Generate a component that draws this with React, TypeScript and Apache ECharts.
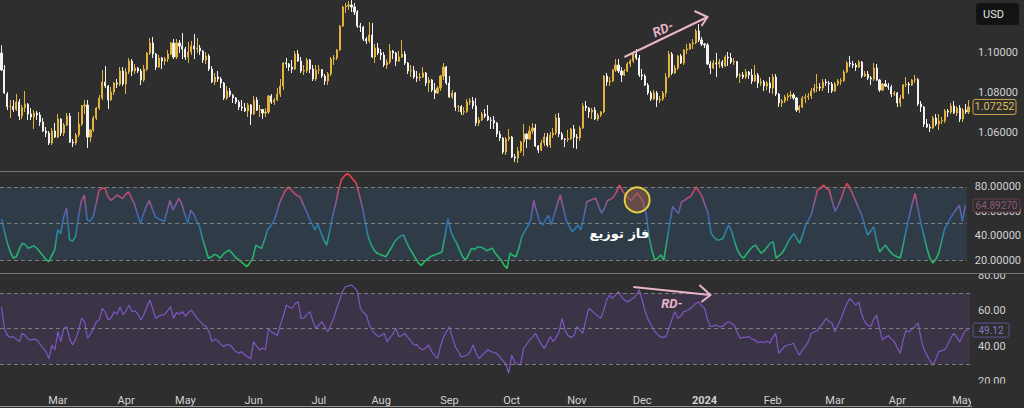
import React, { useEffect, useRef } from "react";
import * as echarts from "echarts";

// EUR/USD daily candles, 2 Feb 2023 – 3 May 2024
const opens = [
  1.0995,1.0910,1.0790,1.0727,1.0728,1.0713,1.0750,1.0680,1.0722,1.0739,
  1.0690,1.0675,1.0695,1.0685,1.0650,1.0605,1.0595,1.0545,1.0605,1.0575,
  1.0665,1.0595,1.0635,1.0680,1.0550,1.0545,1.0585,1.0640,1.0730,1.0735,
  1.0575,1.0610,1.0670,1.0720,1.0770,1.0850,1.0830,1.0760,1.0800,1.0845,
  1.0840,1.0905,1.0840,1.0900,1.0955,1.0905,1.0920,1.0905,1.0860,1.0915,
  1.0995,1.1045,1.0990,1.0925,1.0970,1.0955,1.0965,1.0990,1.1045,1.0975,
  1.1045,1.1030,1.1015,1.0975,1.1000,1.1030,1.1015,1.1020,1.1005,1.0960,
  1.0980,1.0915,1.0850,1.0875,1.0865,1.0845,1.0770,1.0805,1.0785,1.0770,
  1.0750,1.0725,1.0720,1.0705,1.0735,1.0690,1.0760,1.0710,1.0712,1.0695,
  1.0700,1.0780,1.0750,1.0760,1.0790,1.0830,1.0945,1.0940,1.0925,1.0915,
  1.0990,1.0955,1.0905,1.0907,1.0960,1.0915,1.0865,1.0910,1.0912,1.0880,
  1.0855,1.0890,1.0965,1.0970,1.1010,1.1130,1.1225,1.1230,1.1235,1.1225,
  1.1200,1.1130,1.1125,1.1065,1.1055,1.1085,1.0975,1.1020,1.0995,1.0985,
  1.0935,1.0950,1.1005,1.0995,1.0955,1.0975,1.0990,1.0945,1.0905,1.0907,
  1.0875,1.0870,1.0875,1.0895,1.0845,1.0860,1.0810,1.0795,1.0820,1.0880,
  1.0925,1.0845,1.0775,1.0795,1.0725,1.0727,1.0700,1.0702,1.0750,1.0755,
  1.0730,1.0645,1.0660,1.0690,1.0680,1.0660,1.0658,1.0645,1.0590,1.0570,
  1.0500,1.0565,1.0575,1.0475,1.0470,1.0505,1.0550,1.0590,1.0565,1.0605,
  1.0620,1.0530,1.0510,1.0545,1.0575,1.0535,1.0585,1.0595,1.0670,1.0590,
  1.0565,1.0563,1.0567,1.0615,1.0575,1.0570,1.0620,1.0730,1.0720,1.0700,
  1.0710,1.0665,1.0685,1.0700,1.0880,1.0850,1.0855,1.0910,1.0935,1.0905,
  1.0885,1.0905,1.0940,1.0955,1.0990,1.0970,1.0885,1.0880,1.0835,1.0795,
  1.0765,1.0795,1.0760,1.0765,1.0795,1.0875,1.0990,1.0895,1.0920,1.0980,
  1.0945,1.1010,1.1015,1.1040,1.1045,1.1105,1.1060,1.1040,1.1035,1.0940,
  1.0920,1.0945,1.0940,1.0950,1.0930,1.0975,1.0970,1.0950,1.0952,1.0880,
  1.0885,1.0875,1.0900,1.0885,1.0855,1.0885,1.0845,1.0850,1.0830,1.0845,
  1.0820,1.0875,1.0790,1.0745,1.0755,1.0775,1.0780,1.0785,1.0770,1.0710,
  1.0725,1.0770,1.0775,1.0780,1.0805,1.0820,1.0825,1.0820,1.0850,1.0845,
  1.0840,1.0805,1.0840,1.0855,1.0857,1.0900,1.0945,1.0940,1.0935,1.0925,
  1.0950,1.0880,1.0890,1.0870,1.0865,1.0920,1.0860,1.0810,1.0840,1.0830,
  1.0825,1.0790,1.0795,1.0745,1.0770,1.0835,1.0840,1.0835,1.0860,1.0862,
  1.0740,1.0725,1.0640,1.0625,1.0620,1.0670,1.0640,1.0655,1.0657,1.0705,
  1.0700,1.0730,1.0695,1.0720,1.0665,1.0710,1.0700,
];

const closes = [
  1.0910,1.0795,1.0727,1.0728,1.0713,1.0750,1.0680,1.0722,1.0739,1.0690,
  1.0675,1.0695,1.0685,1.0650,1.0605,1.0595,1.0545,1.0605,1.0575,1.0665,
  1.0595,1.0635,1.0680,1.0550,1.0545,1.0585,1.0640,1.0730,1.0735,1.0575,
  1.0610,1.0670,1.0720,1.0770,1.0850,1.0830,1.0760,1.0800,1.0845,1.0840,
  1.0905,1.0840,1.0900,1.0955,1.0905,1.0920,1.0905,1.0860,1.0915,1.0995,
  1.1045,1.0990,1.0925,1.0970,1.0955,1.0965,1.0990,1.1045,1.0975,1.1045,
  1.1030,1.1015,1.0975,1.1000,1.1030,1.1015,1.1020,1.1005,1.0960,1.0980,
  1.0915,1.0850,1.0875,1.0865,1.0845,1.0770,1.0805,1.0785,1.0770,1.0750,
  1.0725,1.0720,1.0705,1.0735,1.0690,1.0760,1.0710,1.0712,1.0695,1.0700,
  1.0780,1.0750,1.0760,1.0790,1.0830,1.0945,1.0940,1.0925,1.0915,1.0990,
  1.0955,1.0905,1.0907,1.0960,1.0915,1.0865,1.0910,1.0912,1.0880,1.0855,
  1.0890,1.0965,1.0970,1.1010,1.1130,1.1225,1.1230,1.1235,1.1225,1.1200,
  1.1130,1.1125,1.1065,1.1055,1.1085,1.0975,1.1020,1.0995,1.0985,1.0935,
  1.0950,1.1005,1.0995,1.0955,1.0975,1.0990,1.0945,1.0905,1.0907,1.0875,
  1.0870,1.0875,1.0895,1.0845,1.0860,1.0810,1.0795,1.0820,1.0880,1.0925,
  1.0845,1.0775,1.0795,1.0725,1.0727,1.0700,1.0702,1.0750,1.0755,1.0730,
  1.0645,1.0660,1.0690,1.0680,1.0660,1.0658,1.0645,1.0590,1.0570,1.0500,
  1.0565,1.0575,1.0475,1.0470,1.0505,1.0550,1.0590,1.0565,1.0605,1.0620,
  1.0530,1.0510,1.0545,1.0575,1.0535,1.0585,1.0595,1.0670,1.0590,1.0565,
  1.0563,1.0567,1.0615,1.0575,1.0570,1.0620,1.0730,1.0720,1.0700,1.0710,
  1.0665,1.0685,1.0700,1.0880,1.0850,1.0855,1.0910,1.0935,1.0905,1.0885,
  1.0905,1.0940,1.0955,1.0990,1.0970,1.0885,1.0880,1.0835,1.0795,1.0765,
  1.0795,1.0760,1.0765,1.0795,1.0875,1.0990,1.0895,1.0920,1.0980,1.0945,
  1.1010,1.1015,1.1040,1.1045,1.1105,1.1060,1.1040,1.1035,1.0940,1.0920,
  1.0945,1.0940,1.0950,1.0930,1.0975,1.0970,1.0950,1.0952,1.0880,1.0885,
  1.0875,1.0900,1.0885,1.0855,1.0885,1.0845,1.0850,1.0830,1.0845,1.0820,
  1.0875,1.0790,1.0745,1.0755,1.0775,1.0780,1.0785,1.0770,1.0710,1.0725,
  1.0770,1.0775,1.0780,1.0805,1.0820,1.0825,1.0820,1.0850,1.0845,1.0840,
  1.0805,1.0840,1.0855,1.0857,1.0900,1.0945,1.0940,1.0935,1.0925,1.0950,
  1.0880,1.0890,1.0870,1.0865,1.0920,1.0860,1.0810,1.0840,1.0830,1.0825,
  1.0790,1.0795,1.0745,1.0770,1.0835,1.0840,1.0835,1.0860,1.0862,1.0740,
  1.0725,1.0640,1.0625,1.0620,1.0670,1.0640,1.0655,1.0657,1.0705,1.0700,
  1.0730,1.0695,1.0720,1.0665,1.0710,1.0700,1.07252,
];

const lows = [
  1.0905,1.0790,1.0710,1.0670,1.0700,1.0705,1.0660,1.0665,1.0700,1.0660,
  1.0660,1.0615,1.0660,1.0630,1.0600,1.0575,1.0535,1.0535,1.0570,1.0570,
  1.0580,1.0580,1.0630,1.0545,1.0525,1.0535,1.0575,1.0630,1.0690,1.0520,
  1.0550,1.0600,1.0660,1.0710,1.0760,1.0820,1.0715,1.0755,1.0785,1.0820,
  1.0830,1.0830,1.0790,1.0890,1.0880,1.0890,1.0895,1.0835,1.0850,1.0905,
  1.0985,1.0970,1.0910,1.0920,1.0915,1.0935,1.0950,1.0985,1.0965,1.0965,
  1.0995,1.0965,1.0960,1.0945,1.0985,1.0965,1.0995,1.0985,1.0945,1.0940,
  1.0905,1.0845,1.0835,1.0850,1.0820,1.0760,1.0760,1.0775,1.0745,1.0740,
  1.0710,1.0705,1.0700,1.0675,1.0635,1.0685,1.0705,1.0675,1.0665,1.0675,
  1.0690,1.0740,1.0735,1.0755,1.0775,1.0810,1.0920,1.0905,1.0895,1.0910,
  1.0950,1.0895,1.0885,1.0895,1.0895,1.0855,1.0855,1.0890,1.0870,1.0835,
  1.0835,1.0880,1.0935,1.0960,1.1005,1.1125,1.1195,1.1210,1.1200,1.1185,
  1.1120,1.1100,1.1055,1.1040,1.1045,1.0970,1.0945,1.0985,1.0960,1.0925,
  1.0915,1.0940,1.0965,1.0930,1.0950,1.0970,1.0935,1.0890,1.0875,1.0865,
  1.0850,1.0855,1.0870,1.0830,1.0800,1.0800,1.0765,1.0790,1.0805,1.0860,
  1.0835,1.0770,1.0765,1.0705,1.0700,1.0685,1.0685,1.0695,1.0735,1.0715,
  1.0630,1.0630,1.0655,1.0670,1.0655,1.0615,1.0615,1.0575,1.0555,1.0490,
  1.0485,1.0555,1.0470,1.0450,1.0445,1.0495,1.0480,1.0520,1.0560,1.0590,
  1.0525,1.0495,1.0505,1.0530,1.0525,1.0520,1.0570,1.0585,1.0575,1.0560,
  1.0525,1.0550,1.0560,1.0520,1.0515,1.0555,1.0615,1.0705,1.0670,1.0665,
  1.0660,1.0655,1.0675,1.0695,1.0830,1.0830,1.0850,1.0900,1.0895,1.0850,
  1.0880,1.0900,1.0925,1.0945,1.0960,1.0875,1.0860,1.0830,1.0785,1.0755,
  1.0760,1.0725,1.0745,1.0755,1.0775,1.0870,1.0885,1.0890,1.0910,1.0940,
  1.0935,1.0990,1.1010,1.1015,1.1040,1.1050,1.1030,1.1020,1.0935,1.0890,
  1.0915,1.0875,1.0920,1.0920,1.0925,1.0930,1.0940,1.0935,1.0870,1.0845,
  1.0865,1.0865,1.0865,1.0840,1.0850,1.0820,1.0830,1.0805,1.0810,1.0795,
  1.0790,1.0780,1.0725,1.0725,1.0745,1.0755,1.0765,1.0760,1.0700,1.0695,
  1.0720,1.0745,1.0760,1.0765,1.0795,1.0800,1.0805,1.0805,1.0830,1.0795,
  1.0795,1.0800,1.0830,1.0835,1.0850,1.0895,1.0925,1.0920,1.0905,1.0920,
  1.0870,1.0875,1.0860,1.0835,1.0855,1.0855,1.0800,1.0805,1.0825,1.0810,
  1.0775,1.0780,1.0725,1.0725,1.0765,1.0825,1.0790,1.0830,1.0845,1.0730,
  1.0700,1.0625,1.0620,1.0600,1.0615,1.0630,1.0610,1.0640,1.0645,1.0675,
  1.0690,1.0690,1.0680,1.0650,1.0650,1.0690,1.0690,
];

const highs = [
  1.1033,1.0935,1.0800,1.0760,1.0760,1.0790,1.0765,1.0735,1.0805,1.0745,
  1.0720,1.0710,1.0705,1.0700,1.0670,1.0625,1.0605,1.0620,1.0645,1.0690,
  1.0670,1.0645,1.0695,1.0695,1.0565,1.0595,1.0700,1.0735,1.0760,1.0760,
  1.0615,1.0680,1.0725,1.0785,1.0910,1.0930,1.0835,1.0825,1.0850,1.0865,
  1.0925,1.0925,1.0920,1.0970,1.0965,1.0940,1.0925,1.0915,1.0935,1.1000,
  1.1070,1.1075,1.0995,1.0985,1.0975,1.0975,1.1010,1.1050,1.1065,1.1065,
  1.1060,1.1095,1.1025,1.1050,1.1055,1.1090,1.1070,1.1035,1.1010,1.1000,
  1.0990,1.0930,1.0895,1.0905,1.0875,1.0850,1.0830,1.0820,1.0790,1.0775,
  1.0760,1.0760,1.0745,1.0745,1.0740,1.0780,1.0775,1.0735,1.0715,1.0720,
  1.0785,1.0790,1.0770,1.0820,1.0865,1.0950,1.0970,1.0945,1.0960,1.1005,
  1.1010,1.0975,1.0935,1.0970,1.0965,1.0935,1.0935,1.0935,1.0915,1.0890,
  1.0900,1.0975,1.0985,1.1015,1.1135,1.1230,1.1245,1.1255,1.1260,1.1245,
  1.1210,1.1145,1.1130,1.1075,1.1150,1.1145,1.1040,1.1045,1.1015,1.1000,
  1.0965,1.1040,1.1010,1.1000,1.1005,1.1060,1.1005,1.0950,1.0935,1.0930,
  1.0905,1.0895,1.0925,1.0900,1.0875,1.0865,1.0845,1.0830,1.0885,1.0945,
  1.0930,1.0880,1.0810,1.0800,1.0735,1.0735,1.0725,1.0765,1.0770,1.0775,
  1.0770,1.0675,1.0700,1.0715,1.0735,1.0675,1.0680,1.0650,1.0605,1.0575,
  1.0575,1.0615,1.0580,1.0490,1.0525,1.0555,1.0640,1.0595,1.0630,1.0645,
  1.0640,1.0535,1.0560,1.0595,1.0595,1.0600,1.0620,1.0690,1.0695,1.0600,
  1.0570,1.0610,1.0620,1.0635,1.0590,1.0630,1.0745,1.0755,1.0725,1.0720,
  1.0725,1.0695,1.0705,1.0885,1.0895,1.0875,1.0915,1.0965,1.0965,1.0925,
  1.0915,1.0950,1.0965,1.1005,1.1015,1.0985,1.0915,1.0890,1.0845,1.0805,
  1.0810,1.0805,1.0780,1.0805,1.0895,1.1005,1.1000,1.0935,1.0985,1.0990,
  1.1015,1.1040,1.1045,1.1065,1.1115,1.1140,1.1075,1.1045,1.1045,1.0955,
  1.0960,1.0995,1.0965,1.0960,1.0985,1.1000,1.0995,1.0970,1.0955,1.0895,
  1.0900,1.0915,1.0905,1.0915,1.0935,1.0895,1.0870,1.0860,1.0855,1.0875,
  1.0890,1.0890,1.0795,1.0765,1.0785,1.0795,1.0805,1.0795,1.0775,1.0735,
  1.0780,1.0790,1.0795,1.0820,1.0840,1.0890,1.0845,1.0865,1.0865,1.0855,
  1.0850,1.0850,1.0865,1.0870,1.0910,1.0955,1.0980,1.0955,1.0945,1.0960,
  1.0955,1.0905,1.0905,1.0880,1.0945,1.0940,1.0865,1.0845,1.0860,1.0845,
  1.0835,1.0805,1.0800,1.0785,1.0840,1.0875,1.0850,1.0865,1.0885,1.0870,
  1.0755,1.0730,1.0665,1.0640,1.0680,1.0690,1.0690,1.0675,1.0715,1.0715,
  1.0745,1.0755,1.0730,1.0735,1.0720,1.0740,1.0760,
];

// Oscillator in the middle pane (gradient coloured by level)
const stochValues = [
  54, 44, 34, 27, 22, 23, 29, 34, 33, 30,
  31, 32, 30, 27, 24, 21, 19, 24, 28.6, 45,
  42, 55, 62.6, 37, 36, 39, 55, 68, 73.5, 53,
  52, 55.8, 66, 77.5, 79, 79, 72, 69, 71, 73.5,
  72, 70.7, 74, 76, 70.7, 66, 58, 50.3, 58, 64,
  69, 62, 55.8, 54, 53, 51.7, 60, 69, 61, 66,
  70.7, 66, 58, 50.3, 61, 58, 52, 47.6, 38, 30,
  21.8, 23, 25, 24, 22, 25, 27, 28.6, 26, 23,
  21, 19, 17, 15, 18, 22, 32.6, 31, 30, 37,
  45, 48, 51.7, 58, 66.7, 72, 77, 80, 77.5, 75,
  73, 72, 66, 61, 55, 50, 45, 50, 43, 37,
  32.6, 44, 56, 66, 77.5, 86, 89, 91, 89, 86,
  83, 74, 64, 52, 39.5, 33, 28.6, 26, 25, 24,
  23, 27, 31, 35.4, 38, 40, 40.8, 35, 30, 26,
  22, 18, 16, 19, 21, 23, 24, 25, 26, 27,
  40, 54.4, 44, 38, 34, 28, 23, 20.4, 25, 30,
  29, 31, 31, 30, 28, 29, 30, 26, 23, 20.4,
  16, 13.6, 26, 24, 23, 30, 39.5, 44, 48, 53,
  69, 60, 52, 49, 53, 57, 49, 58, 66, 73.5,
  63, 53, 48, 43.5, 46, 49, 45, 56, 68, 69,
  70, 70.7, 64, 58.5, 63, 69, 70, 72, 76, 81.6,
  77, 73.5, 71, 69, 72, 75, 72, 68, 58.5, 39.5,
  28, 20.4, 22, 24.5, 20.4, 35, 50, 64, 61, 58.5,
  68, 69, 71, 72, 76, 80, 76, 72, 65, 58.5,
  42, 39, 36.7, 37, 38, 44, 49, 43.5, 35, 28,
  24, 22, 25, 28.6, 31, 32.6, 29, 26, 28, 31,
  34, 35.4, 22, 24, 26, 30, 35, 39, 42, 38,
  34, 41, 49, 53, 58.5, 68, 77.5, 79, 81.6, 79,
  77.5, 68, 60, 65, 70.7, 78, 83, 79, 73.5, 68,
  62, 57, 48, 40.8, 44, 47.6, 36, 27, 30, 32.6,
  29, 26, 24, 23, 22, 33, 45, 56, 66, 75,
  62, 50, 40, 30, 22, 18, 21, 26, 36, 46,
  50, 55, 58.5, 62, 65, 52, 64.8927,
];

// RSI in the bottom pane
const rsiValues = [
  62, 50, 46, 45, 45.4, 44, 42.6, 47.3, 46, 44,
  43.5, 44, 43.5, 41, 39, 37, 33, 40.7, 38, 48.2,
  42.6, 50, 51, 44, 40.7, 44, 49, 55.7, 54, 44.5,
  47, 50, 53.8, 55, 61.4, 59, 54.8, 56, 59.5, 58,
  62.3, 57.6, 60, 63.2, 59.5, 60, 58, 54.8, 58, 62,
  66, 61, 55.7, 57, 57.6, 58, 60, 62.3, 55.7, 59,
  58, 59.5, 57, 59, 60.4, 58, 55.7, 54, 52, 51,
  48, 42.6, 44, 43, 41, 39.8, 41, 40.7, 39, 37,
  36, 37, 35, 34.1, 33, 42.6, 40, 37.9, 39, 38,
  50, 48, 47, 46, 52, 57, 63.2, 62, 61.4, 64,
  65, 55.7, 56, 58, 59.5, 54, 50, 52, 53.8, 51,
  48.2, 52, 55.7, 61.4, 66, 71, 73.6, 74, 74.5, 73,
  70.8, 61.4, 59, 57.6, 52, 49, 47, 45.4, 46, 47.3,
  42.6, 45, 47, 50, 45.4, 46, 47.3, 45, 43, 40.7,
  41, 39, 38, 39, 40.7, 37, 35, 33, 40, 45,
  48, 51, 45, 39.8, 37, 34, 34.5, 35, 37, 40.7,
  36, 33, 35, 36.5, 38, 37, 36.5, 36, 34, 32,
  30, 24.8, 35, 31, 30, 29.4, 38.8, 41, 43.5, 45,
  47.3, 44, 41, 38.8, 42, 45.4, 42.6, 45, 48.2, 55.7,
  49, 46, 45, 46, 51, 49, 47.3, 55, 61.4, 60,
  58.5, 57, 55.7, 60, 66, 68.9, 67, 69, 70.8, 68,
  66, 65, 66, 67, 69, 71.7, 66, 59.5, 55, 52,
  49, 47, 45.4, 45, 45.4, 50, 55, 59.5, 55.7, 57,
  59.5, 60, 61, 62.3, 64, 65, 63, 61.4, 55, 51,
  51.5, 52, 51, 51, 52.5, 53.8, 53, 52, 48, 44.5,
  45, 45, 45.4, 44, 43.5, 42, 42.6, 42, 43, 41.7,
  45, 47.3, 36, 38, 40, 40.7, 41, 41.7, 38, 35,
  38, 40, 42.6, 47.3, 48, 49, 51, 53, 55.7, 54,
  53, 48.2, 52, 55.7, 60, 64, 67, 65, 63.2, 65,
  58, 53.8, 52, 51, 55, 57.6, 50, 43.5, 45, 46,
  44, 42.6, 39, 36, 44, 49, 48, 50, 51, 53,
  44, 38, 35, 32, 29.4, 33, 37, 37.5, 38, 41,
  44.5, 47.3, 45, 42.6, 46, 49, 49.12,
];

const priceTicks = [1.06, 1.08, 1.1];
const stochTicks = [20, 40, 60, 80];
const rsiTicks = [20, 40, 60, 80];
const stochLevels = [20, 50, 80];
const stochBand = [20, 80];
const rsiLevels = [30, 50, 70];
const rsiBand = [30, 70];
const monthNames = ["Jan", "Feb", "Mar", "Apr", "May", "Jun", "Jul", "Aug", "Sep", "Oct", "Nov", "Dec"];

// Drawing annotations, as [bar index, value]
const rdPriceFrom = [210, 1.0975];
const rdPriceTo = [238, 1.1175];
const rdPriceText = [223, 1.1115];
const distributionMark = [215, 69.5];
const distributionText = [209, 42.4];
const rdRsiFrom = [213, 73.4];
const rdRsiTo = [239, 68.9];
const rdRsiText = [226, 64.2];

const W = 1024;
const H = 408;
const PLOT_W = 970;
const PANES = [
  { top: 0, height: 171, min: 1.0405, max: 1.126 },
  { top: 172, height: 100, min: 10.61, max: 92.24 },
  { top: 274, height: 112, min: 17.6, max: 80.7 },
];
const BG = "#2e2e2e";
const AXIS_TEXT = "#d2d2d2";
const FONT = "Roboto, 'Liberation Sans', sans-serif";
const PINK = "#e8b4c8";

function tradingDays(start: string, count: number): string[] {
  const out: string[] = [];
  const d = new Date(start + "T00:00:00Z");
  while (out.length < count) {
    const wd = d.getUTCDay();
    if (wd !== 0 && wd !== 6) out.push(d.toISOString().slice(0, 10));
    d.setUTCDate(d.getUTCDate() + 1);
  }
  return out;
}

export default function App() {
  const ref = useRef<HTMLDivElement>(null);

  useEffect(() => {
    const el = ref.current;
    if (!el) return;
    const chart = echarts.init(el, null, { renderer: "svg" });
    const dates = tradingDays("2023-02-02", closes.length);
    const candles = closes.map((c, i) => [opens[i], c, lows[i], highs[i]]);
    const isMonthStart = (i: number) =>
      i > 0 && dates[i].slice(0, 7) !== dates[i - 1].slice(0, 7);

    const xAxes = PANES.map((_, g) => ({
      type: "category",
      gridIndex: g,
      data: dates,
      boundaryGap: true,
      axisLine: { show: false },
      axisTick: { show: false },
      splitLine: { show: false },
      axisPointer: { show: false },
      axisLabel:
        g === 2
          ? {
              show: true,
              color: AXIS_TEXT,
              fontSize: 11,
              fontFamily: FONT,
              margin: 9,
              interval: (idx: number) => isMonthStart(idx),
              formatter: (v: string) => {
                const m = Number(v.slice(5, 7));
                return m === 1 ? `{yr|${v.slice(0, 4)}}` : monthNames[m - 1];
              },
              rich: { yr: { fontWeight: "bold", color: AXIS_TEXT, fontSize: 11, fontFamily: FONT } },
            }
          : { show: false },
    }));

    const yLabel = (ticks: number[], digits: number) => ({
      show: true,
      customValues: ticks,
      color: AXIS_TEXT,
      fontSize: 11,
      fontFamily: FONT,
      margin: 8,
      formatter: (v: number) => v.toFixed(digits),
    });

    const yAxes = PANES.map((p, g) => ({
      type: "value",
      gridIndex: g,
      position: "right",
      min: p.min,
      max: p.max,
      scale: true,
      splitLine: { show: false },
      axisLine: { show: false },
      axisTick: { show: false },
      axisLabel: yLabel(g === 0 ? priceTicks : g === 1 ? stochTicks : rsiTicks, g === 2 ? 2 : 5),
    }));

    const levelLines = (levels: number[]) => ({
      silent: true,
      symbol: ["none", "none"],
      label: { show: false },
      lineStyle: { color: "#7c7c7c", type: [4, 3], width: 1 },
      emphasis: { disabled: true },
      data: levels.map((v) => ({ yAxis: v })),
    });

    chart.setOption({
      animation: false,
      backgroundColor: BG,
      grid: PANES.map((p) => ({ left: 0, width: PLOT_W, top: p.top, height: p.height, containLabel: false })),
      xAxis: xAxes,
      yAxis: yAxes,
      visualMap: [
        {
          type: "continuous",
          show: false,
          seriesIndex: 1,
          min: 15,
          max: 90,
          inRange: { color: ["#22c062", "#27b36c", "#2a8c9c", "#2f6db5", "#7d5aa0", "#d44560", "#ef3e4c"] },
        },
      ],
      series: [
        {
          type: "candlestick",
          xAxisIndex: 0,
          yAxisIndex: 0,
          data: candles,
          barWidth: 1.6,
          itemStyle: {
            color: "#e2b33c",
            color0: "#f2f2f2",
            borderColor: "#e2b33c",
            borderColor0: "#f2f2f2",
            borderWidth: 1,
          },
        },
        {
          type: "line",
          xAxisIndex: 1,
          yAxisIndex: 1,
          data: stochValues,
          showSymbol: false,
          lineStyle: { width: 1.6 },
          markArea: {
            silent: true,
            itemStyle: { color: "#2f3b46" },
            data: [[{ yAxis: stochBand[0] }, { yAxis: stochBand[1] }]],
          },
          markLine: levelLines(stochLevels),
        },
        {
          type: "line",
          xAxisIndex: 2,
          yAxisIndex: 2,
          data: rsiValues,
          showSymbol: false,
          color: "#7e57c2",
          lineStyle: { width: 1.2, color: "#7e57c2" },
          markArea: {
            silent: true,
            itemStyle: { color: "#3a3446" },
            data: [[{ yAxis: rsiBand[0] }, { yAxis: rsiBand[1] }]],
          },
          markLine: levelLines(rsiLevels),
        },
      ],
    });

    const px = (g: number, pt: number[]) =>
      chart.convertToPixel({ gridIndex: g } as any, pt) as unknown as number[];

    const arrow = (a: number[], b: number[], arms: number[][]) => [
      {
        type: "line",
        z: 100,
        shape: { x1: a[0], y1: a[1], x2: b[0], y2: b[1] },
        style: { stroke: PINK, lineWidth: 2 },
      },
      {
        type: "polyline",
        z: 100,
        shape: {
          points: [
            [b[0] + arms[0][0], b[1] + arms[0][1]],
            [b[0], b[1]],
            [b[0] + arms[1][0], b[1] + arms[1][1]],
          ],
        },
        style: { stroke: PINK, lineWidth: 2, fill: null },
      },
    ];

    const valueTag = (y: number, text: string, w: number, h: number, stroke: string, color: string, size: number) => [
      {
        type: "rect",
        z: 110,
        shape: { x: PLOT_W + 3, y: y - h / 2, width: w, height: h, r: 2 },
        style: { fill: BG, stroke, lineWidth: 1 },
      },
      {
        type: "text",
        z: 111,
        x: PLOT_W + 3 + w / 2,
        y,
        style: { text, fill: color, fontSize: size, fontFamily: FONT, align: "center", verticalAlign: "middle" },
      },
    ];

    const lastIdx = closes.length - 1;
    const priceY = px(0, [lastIdx, closes[lastIdx]])[1];
    const stochY = px(1, [lastIdx, stochValues[lastIdx]])[1];
    const rsiY = px(2, [lastIdx, rsiValues[lastIdx]])[1];

    const rdA = px(0, rdPriceFrom);
    const rdB = px(0, rdPriceTo);
    const rdT = px(0, rdPriceText);
    const circ = px(1, distributionMark);
    const distT = px(1, distributionText);
    const rsA = px(2, rdRsiFrom);
    const rsB = px(2, rdRsiTo);
    const rsT = px(2, rdRsiText);

    const sep = (y: number, x2: number, color: string) => ({
      type: "line",
      z: 95,
      shape: { x1: 0, y1: y, x2, y2: y },
      style: { stroke: color, lineWidth: 1 },
    });

    // Price-scale column masks: the scale strip clips labels at the pane edges
    const mask = (x: number, y: number, w: number, h: number) => ({
      type: "rect",
      z: 90,
      shape: { x, y, width: w, height: h },
      style: { fill: BG },
    });

    chart.setOption({
      graphic: [
        mask(PLOT_W + 1, PANES[2].top - 8, W - PLOT_W - 1, 7.5),
        mask(PLOT_W + 1, PANES[2].top + PANES[2].height - 2.5, W - PLOT_W - 1, H - PANES[2].top - PANES[2].height + 2.5),
        sep(PANES[1].top - 0.5, W, "#747474"),
        sep(PANES[2].top - 0.5, W, "#747474"),
        sep(H - 1.5, PLOT_W + 2, "#9a9a9a"),
        {
          type: "rect",
          z: 110,
          shape: { x: PLOT_W + 6, y: 3, width: 43, height: 22, r: 3 },
          style: { fill: "#131313" },
        },
        {
          type: "text",
          z: 111,
          x: PLOT_W + 13,
          y: 14,
          style: { text: "USD", fill: "#e6e6e6", fontSize: 11, fontFamily: FONT, verticalAlign: "middle" },
        },
        ...valueTag(priceY, closes[lastIdx].toFixed(5), 43, 15, "#c8a64a", "#dcbc5c", 11),
        ...valueTag(stochY, stochValues[lastIdx].toFixed(5), 47, 13, "#6b3d57", "#8c5a78", 10),
        ...valueTag(rsiY, rsiValues[lastIdx].toFixed(2), 36, 14, "#5f5196", "#8676c4", 10),
        ...arrow(rdA, rdB, [[-13, -6], [-6, 9]]),
        {
          type: "text",
          z: 100,
          x: rdT[0],
          y: rdT[1],
          rotation: 0.42,
          style: {
            text: "RD-",
            fill: PINK,
            fontSize: 13,
            fontWeight: "bold",
            fontStyle: "italic",
            fontFamily: FONT,
            align: "center",
            verticalAlign: "middle",
          },
        },
        {
          type: "circle",
          z: 100,
          shape: { cx: circ[0], cy: circ[1], r: 12.5 },
          style: { fill: "rgba(165,100,70,0.45)", stroke: "#e3d040", lineWidth: 2 },
        },
        {
          type: "text",
          z: 100,
          x: distT[0],
          y: distT[1],
          style: {
            text: "فاز توزیع",
            fill: "#ffffff",
            fontSize: 13,
            fontWeight: "bold",
            fontFamily: "'DejaVu Sans', sans-serif",
            align: "center",
            verticalAlign: "middle",
          },
        },
        ...arrow(rsA, rsB, [[-11, -10], [-9, 7]]),
        {
          type: "text",
          z: 100,
          x: rsT[0],
          y: rsT[1],
          style: {
            text: "RD-",
            fill: PINK,
            fontSize: 13,
            fontWeight: "bold",
            fontStyle: "italic",
            fontFamily: FONT,
            align: "center",
            verticalAlign: "middle",
          },
        },
      ],
    });

    return () => chart.dispose();
  }, []);

  return <div ref={ref} style={{ position: "absolute", left: 0, top: 0, width: W, height: H }} />;
}
